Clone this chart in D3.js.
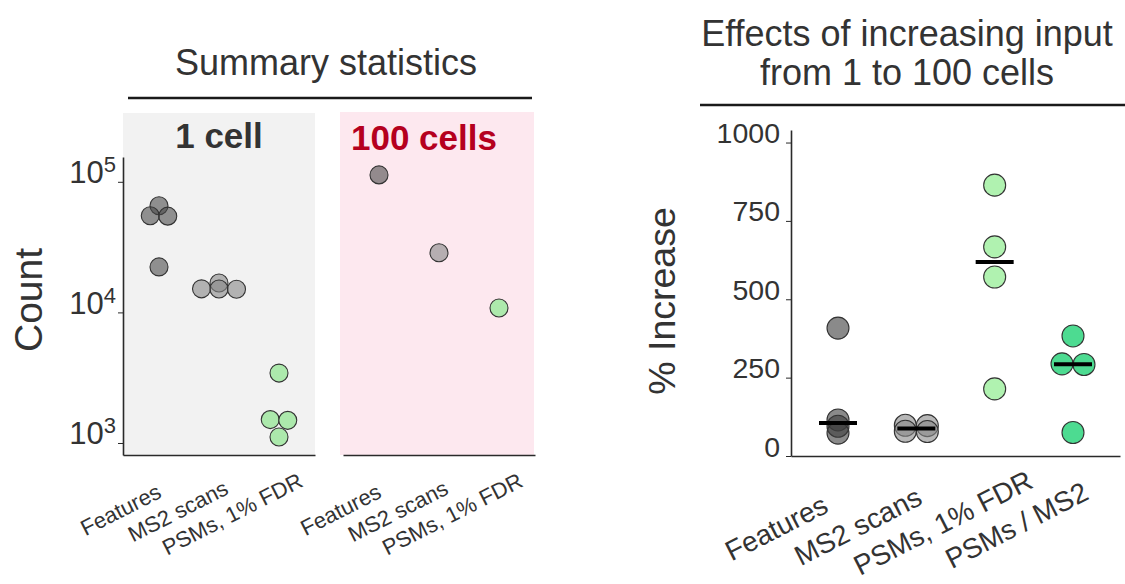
<!DOCTYPE html>
<html><head><meta charset="utf-8">
<script src="https://cdn.jsdelivr.net/npm/d3@7"></script>
<style>
body{margin:0;background:#fff;}
svg text{font-family:"Liberation Sans",Arial,Helvetica,sans-serif;fill:#333;}
</style></head><body>
<svg id="chart" width="1125" height="584"></svg>
<script>
// ---------- DATA ----------
const summaryCategories = ["Features", "MS2 scans", "PSMs, 1% FDR"];
const oneCellFeatures = [65500, 54900, 54600, 22300];
const oneCellMS2 = [16800, 15100, 15050, 15150];
const oneCellPSMs = [3430, 1510, 1490, 1110];
const hundredCellValues = [113000, 28600, 10800];
const logTicks = [1000, 10000, 100000];

const increaseCategories = ["Features", "MS2 scans", "PSMs, 1% FDR", "PSMs / MS2"];
const incFeatures = [408, 115, 95, 73];
const incMS2 = [98, 97, 79, 78];
const incPSMs = [864, 667, 571, 214];
const incPSMsPerMS2 = [383, 294, 292, 75];
const linearTicks = [0, 250, 500, 750, 1000];

// ---------- STYLE ----------
const fills = {
  "Features": {c: "rgb(70,70,70)", o: 0.58},
  "MS2 scans": {c: "rgb(135,135,135)", o: 0.6},
  "PSMs, 1% FDR": {c: "#a6e8a6", o: 0.92}
};
const rightFills = {
  "Features": {c: "rgb(60,60,60)", o: 0.6},
  "MS2 scans": {c: "rgb(135,135,135)", o: 0.6},
  "PSMs, 1% FDR": {c: "#b0f2b0", o: 1},
  "PSMs / MS2": {c: "#4ddb91", o: 1}
};
const svg = d3.select("#chart");

function dodge(values, y, spacing, tol) {
  const pts = values.map(v => ({v, y: y(v)})).sort((a, b) => a.y - b.y);
  const groups = [];
  pts.forEach(p => {
    const g = groups[groups.length - 1];
    if (g && Math.abs(p.y - g[0].y) < tol) g.push(p); else groups.push([p]);
  });
  groups.forEach(g => g.forEach((p, i) => p.dx = (i - (g.length - 1) / 2) * spacing));
  return pts;
}

function styleAxis(g) {
  g.selectAll(".domain").attr("stroke", "#2a2a2a").attr("stroke-width", 1.6);
  g.selectAll(".tick line").attr("stroke", "#2a2a2a").attr("stroke-width", 1);
}

function rotatedLabels(g, cats, x, pivotDx, pivotY, angle, frac, size) {
  cats.forEach(c => {
    const t = g.append("text")
      .attr("text-anchor", "end")
      .attr("font-size", size)
      .attr("transform", `translate(${x(c) + pivotDx},${pivotY}) rotate(${angle})`)
      .text(c);
    const L = t.node().getComputedTextLength();
    t.attr("x", frac * L);
  });
}

// ---------- LEFT: SUMMARY STATISTICS ----------
const leftY = d3.scaleLog().domain([Math.pow(10, 2.908), Math.pow(10, 5.19)]).range([455, 157]);
const p1 = d3.scalePoint().domain(summaryCategories).range([123, 315]).padding(0.6);
const p2 = d3.scalePoint().domain(summaryCategories).range([343, 535]).padding(0.6);

svg.append("text").attr("x", 326).attr("y", 75).attr("text-anchor", "middle")
  .attr("font-size", 36).text("Summary statistics");
svg.append("line").attr("x1", 128).attr("x2", 532).attr("y1", 98).attr("y2", 98)
  .attr("stroke", "#1a1a1a").attr("stroke-width", 2.6);

svg.append("rect").attr("x", 123).attr("y", 113).attr("width", 315 - 123).attr("height", 455 - 113)
  .attr("fill", "#f2f2f2");
svg.append("rect").attr("x", 340).attr("y", 112).attr("width", 534 - 340).attr("height", 455 - 112)
  .attr("fill", "#fde8ef");

svg.append("text").attr("x", (123 + 315) / 2).attr("y", 148).attr("text-anchor", "middle")
  .attr("font-size", 35).attr("font-weight", "bold").style("fill", "#333").text("1 cell");
svg.append("text").attr("x", 351).attr("y", 150).attr("text-anchor", "start")
  .attr("font-size", 35).attr("font-weight", "bold").style("fill", "#b5001e").text("100 cells");

const yAxisL = svg.append("g").attr("transform", "translate(123,0)")
  .call(d3.axisLeft(leftY).tickValues(logTicks).tickSize(5).tickSizeOuter(0).tickFormat(() => ""));
styleAxis(yAxisL);
yAxisL.selectAll(".tick").each(function(d) {
  const t = d3.select(this).append("text").attr("x", -7).attr("y", 1).attr("text-anchor", "end");
  t.append("tspan").attr("font-size", 31).text("10");
  t.append("tspan").attr("font-size", 22).attr("dy", -11).text(String(Math.round(Math.log10(d))));
});

[p1, p2].forEach(p => {
  const ax = svg.append("g").attr("transform", "translate(0,455)")
    .call(d3.axisBottom(p).tickSize(0).tickSizeOuter(0).tickFormat(() => ""));
  styleAxis(ax);
});

svg.append("text").attr("transform", "translate(42,300) rotate(-90)").attr("text-anchor", "middle")
  .attr("font-size", 39).text("Count");

const oneCellSets = [oneCellFeatures, oneCellMS2, oneCellPSMs];
const gL = svg.append("g");
summaryCategories.forEach((c, i) => {
  const pts = dodge(oneCellSets[i], leftY, 17.5, 3);
  gL.selectAll(null).data(pts).enter().append("circle")
    .attr("cx", d => p1(c) + d.dx).attr("cy", d => d.y).attr("r", 9)
    .attr("fill", fills[c].c).attr("fill-opacity", fills[c].o)
    .attr("stroke", "#333").attr("stroke-width", 1.1);
});
gL.selectAll(null).data(summaryCategories).enter().append("circle")
  .attr("cx", c => p2(c)).attr("cy", (c, i) => leftY(hundredCellValues[i])).attr("r", 9)
  .attr("fill", c => fills[c].c).attr("fill-opacity", c => fills[c].o)
  .attr("stroke", "#333").attr("stroke-width", 1.1);

const labL = svg.append("g");
rotatedLabels(labL, summaryCategories, p1, -24, 511, -27, 0.36, 22);
rotatedLabels(labL, summaryCategories, p2, -24, 511, -27, 0.36, 22);

// ---------- RIGHT: % INCREASE ----------
const rightY = d3.scaleLinear().domain([0, 1040]).range([456, 130]);
const rightX = d3.scalePoint().domain(increaseCategories).range([791, 1120]).padding(0.6);

svg.append("text").attr("x", 907).attr("y", 46).attr("text-anchor", "middle")
  .attr("font-size", 36).text("Effects of increasing input");
svg.append("text").attr("x", 907).attr("y", 85).attr("text-anchor", "middle")
  .attr("font-size", 36).text("from 1 to 100 cells");
svg.append("line").attr("x1", 700).attr("x2", 1125).attr("y1", 105).attr("y2", 105)
  .attr("stroke", "#1a1a1a").attr("stroke-width", 2.6);

const yAxisR = svg.append("g").attr("transform", "translate(791,0)")
  .call(d3.axisLeft(rightY).tickValues(linearTicks).tickSize(5).tickSizeOuter(0)
    .tickPadding(6).tickFormat(d3.format("d")));
styleAxis(yAxisR);
yAxisR.selectAll(".tick text").attr("font-size", 28.5).attr("dy", "0em").attr("y", 0)
  .style("font-family", "'Liberation Sans',Arial,sans-serif").style("fill", "#333");

const xAxisR = svg.append("g").attr("transform", "translate(0,456)")
  .call(d3.axisBottom(rightX).tickSize(0).tickSizeOuter(0).tickFormat(() => ""));
styleAxis(xAxisR);

svg.append("text").attr("transform", "translate(675,301) rotate(-90)").attr("text-anchor", "middle")
  .attr("font-size", 37.5).text("% Increase");

const incSets = [incFeatures, incMS2, incPSMs, incPSMsPerMS2];
const gR = svg.append("g");
increaseCategories.forEach((c, i) => {
  const pts = dodge(incSets[i], rightY, 22, 3);
  gR.selectAll(null).data(pts).enter().append("circle")
    .attr("cx", d => rightX(c) + d.dx).attr("cy", d => d.y).attr("r", 11)
    .attr("fill", rightFills[c].c).attr("fill-opacity", rightFills[c].o)
    .attr("stroke", "#333").attr("stroke-width", 1.1);
});
gR.selectAll(null).data(increaseCategories).enter().append("line")
  .attr("x1", c => rightX(c) - 19).attr("x2", c => rightX(c) + 19)
  .attr("y1", (c, i) => rightY(d3.median(incSets[i]))).attr("y2", (c, i) => rightY(d3.median(incSets[i])))
  .attr("stroke", "#000").attr("stroke-width", 4);

const labR = svg.append("g");
rotatedLabels(labR, increaseCategories, rightX, -70, 543, -27, 0.63, 28);
</script>
</body></html>
